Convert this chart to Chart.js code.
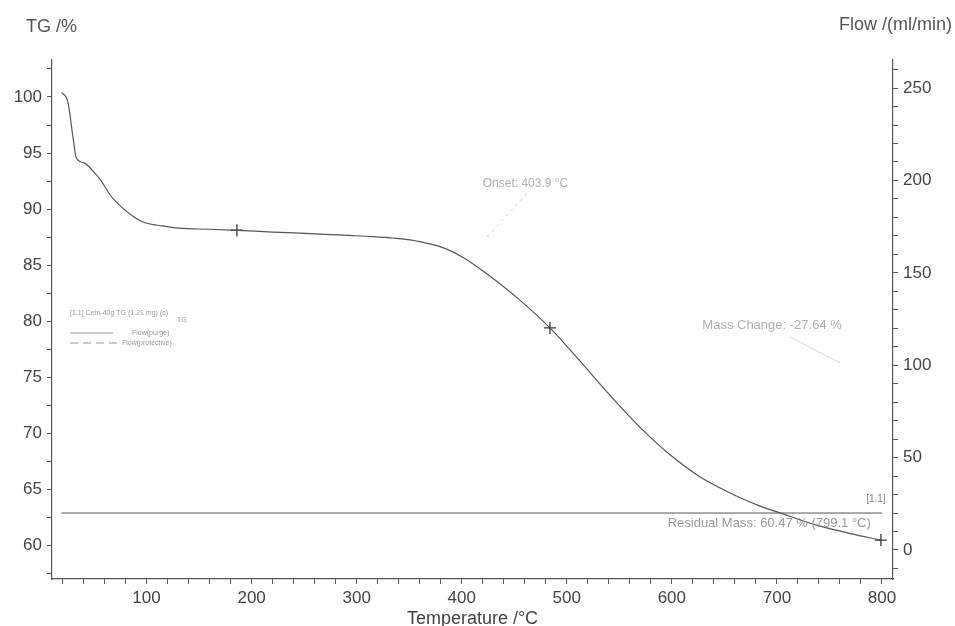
<!DOCTYPE html>
<html>
<head>
<meta charset="utf-8">
<script src="https://cdn.jsdelivr.net/npm/chart.js@4.4.1/dist/chart.umd.min.js"></script>
<style>
	body { margin: 0; background: #fff; }
	canvas { display: block; }
</style>
</head>
<body>
<canvas id="tg_canvas" width="955" height="626"></canvas>
<script>
// TG curve (temperature in °C, mass in %)
const temps = [19, 25, 30, 33, 41, 48, 57, 65, 76, 88, 98, 115, 131, 160, 186, 220, 246, 270, 293, 315, 336, 360, 384, 403, 427, 455, 484, 512, 541, 570, 598, 627, 655, 671, 684, 698, 720, 738, 770, 799];
const tgValues = [100.4, 99.6, 96.4, 94.6, 94.1, 93.5, 92.5, 91.3, 90.2, 89.3, 88.8, 88.5, 88.3, 88.2, 88.1, 87.95, 87.85, 87.75, 87.65, 87.55, 87.4, 87.1, 86.5, 85.6, 84.0, 81.9, 79.4, 76.5, 73.4, 70.5, 68.1, 66.1, 64.7, 64.0, 63.5, 63.05, 62.35, 61.8, 61.05, 60.47];

// purge gas flow, ml/min
const flowTemps = [19, 800];
const flowValues = [20, 20];

// evaluation markers
const markerTemps = [186, 484, 799];
const markerValues = [88.11, 79.4, 60.47];

// faint leader lines of the evaluations
const onsetLeaderTemps = [462, 424];
const onsetLeaderValues = [91.4, 87.5];
const massLeaderTemps = [712, 760];
const massLeaderValues = [78.6, 76.3];

const xTicksMajor = 100;
const tgTicksMajor = 5;
const flowTicksMajor = 50;

const font = '"Liberation Sans", Arial, sans-serif';

function toPoints(xs, ys) {
	const pts = [];
	for (let i = 0; i < xs.length; i++) pts.push({ x: xs[i], y: ys[i] });
	return pts;
}

const textPlugin = {
	id: 'texts',
	afterDraw(chart) {
		const ctx = chart.ctx;
		const x = chart.scales.x;
		const y = chart.scales.y;
		const area = chart.chartArea;
		ctx.save();
		ctx.textBaseline = 'middle';

		// axis titles at the top
		ctx.fillStyle = '#555';
		ctx.font = '18px ' + font;
		ctx.textAlign = 'left';
		ctx.fillText('TG /%', 26, 27);
		ctx.textAlign = 'right';
		ctx.fillText('Flow /(ml/min)', 952, 25);

		// evaluation texts
		ctx.textAlign = 'left';
		ctx.fillStyle = '#b0b0b0';
		ctx.font = '12px ' + font;
		ctx.fillText('Onset: 403.9 °C', x.getPixelForValue(420), y.getPixelForValue(92.3));
		ctx.font = '13px ' + font;
		ctx.fillText('Mass Change: -27.64 %', x.getPixelForValue(629), y.getPixelForValue(79.6));
		ctx.fillStyle = '#9a9a9a';
		ctx.fillText('Residual Mass: 60.47 % (799.1 °C)', x.getPixelForValue(596), y.getPixelForValue(62.0));
		ctx.fillStyle = '#888';
		ctx.font = '10px ' + font;
		ctx.fillText('[1.1]', x.getPixelForValue(785), y.getPixelForValue(64.1));

		// small legend box
		const lx = area.left + 18;
		const ly = area.top + 253;
		ctx.fillStyle = '#999';
		ctx.font = '7px ' + font;
		ctx.fillText('[1.1] Cem-40g TG (1.21 mg) (s)', lx, ly);
		ctx.fillText('TG', lx + 107, ly + 7);
		ctx.fillText('Flow(purge)', lx + 62, ly + 20);
		ctx.fillText('Flow(protective)', lx + 52, ly + 30);
		ctx.strokeStyle = '#999';
		ctx.lineWidth = 1;
		ctx.beginPath();
		ctx.moveTo(lx, ly + 20);
		ctx.lineTo(lx + 43, ly + 20);
		ctx.stroke();
		ctx.setLineDash([8, 5]);
		ctx.beginPath();
		ctx.moveTo(lx, ly + 30);
		ctx.lineTo(lx + 48, ly + 30);
		ctx.stroke();
		ctx.restore();
	}
};

new Chart(window.tg_canvas.getContext('2d'), {
	type: 'scatter',
	data: {
		datasets: [
			{
				label: 'TG',
				data: toPoints(temps, tgValues),
				showLine: true,
				borderColor: '#555',
				borderWidth: 1.2,
				pointRadius: 0,
				cubicInterpolationMode: 'monotone',
				yAxisID: 'y'
			},
			{
				label: 'Flow',
				data: toPoints(flowTemps, flowValues),
				showLine: true,
				borderColor: '#555',
				borderWidth: 1,
				pointRadius: 0,
				yAxisID: 'y1'
			},
			{
				label: 'Markers',
				data: toPoints(markerTemps, markerValues),
				showLine: false,
				pointStyle: 'cross',
				pointRadius: 6,
				borderColor: '#333',
				borderWidth: 1.3,
				yAxisID: 'y'
			},
			{
				label: 'Onset leader',
				data: toPoints(onsetLeaderTemps, onsetLeaderValues),
				showLine: true,
				borderColor: '#d0d0d0',
				borderWidth: 1,
				borderDash: [3, 4],
				pointRadius: 0,
				yAxisID: 'y'
			},
			{
				label: 'Mass leader',
				data: toPoints(massLeaderTemps, massLeaderValues),
				showLine: true,
				borderColor: '#d8d8d8',
				borderWidth: 1,
				pointRadius: 0,
				yAxisID: 'y'
			}
		]
	},
	options: {
		responsive: false,
		animation: false,
		layout: { padding: { top: 60, left: 0, right: 0, bottom: 0 } },
		plugins: { legend: { display: false }, tooltip: { enabled: false } },
		scales: {
			x: {
				type: 'linear',
				position: 'bottom',
				min: 10,
				max: 810.5,
				afterFit: s => { s.height = 47; },
				border: { color: '#555', width: 1.2 },
				grid: { drawOnChartArea: false, tickLength: 5, color: '#555' },
				ticks: {
					stepSize: 20,
					includeBounds: false,
					autoSkip: false,
					maxRotation: 0,
					padding: 4,
					color: '#444',
					font: { family: font, size: 17 },
					callback: v => v % xTicksMajor === 0 ? v : ''
				},
				title: {
					display: true,
					text: 'Temperature /°C',
					color: '#444',
					font: { family: font, size: 18 },
					padding: { top: 0, bottom: -4 }
				}
			},
			y: {
				type: 'linear',
				position: 'left',
				min: 57,
				max: 103.3,
				afterFit: s => { s.width = 52; },
				border: { color: '#555', width: 1.2 },
				grid: { drawOnChartArea: false, tickLength: 5, color: '#555' },
				ticks: {
					stepSize: 2.5,
					includeBounds: false,
					autoSkip: false,
					padding: 5,
					color: '#444',
					font: { family: font, size: 17 },
					callback: v => v % tgTicksMajor === 0 ? v : ''
				}
			},
			y1: {
				type: 'linear',
				position: 'right',
				min: -15.7,
				max: 265.2,
				afterFit: s => { s.width = 62; },
				border: { color: '#555', width: 1.2 },
				grid: { drawOnChartArea: false, tickLength: 5, color: '#555' },
				ticks: {
					stepSize: 10,
					includeBounds: false,
					autoSkip: false,
					padding: 5,
					color: '#444',
					font: { family: font, size: 17 },
					callback: v => v % flowTicksMajor === 0 ? v : ''
				}
			}
		}
	},
	plugins: [textPlugin]
});
</script>
</body>
</html>
